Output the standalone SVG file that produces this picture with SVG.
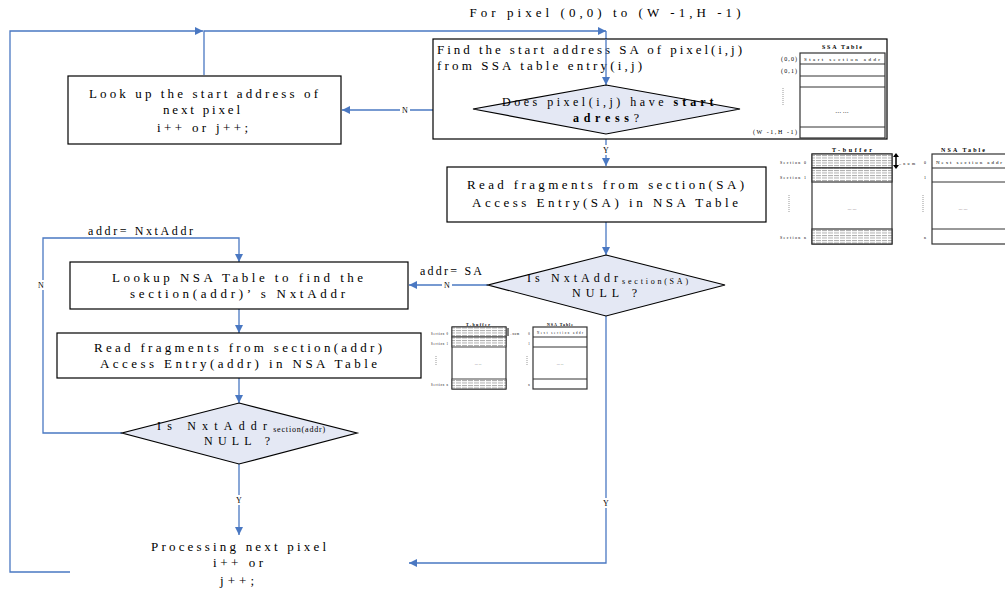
<svg xmlns="http://www.w3.org/2000/svg" width="1005" height="592" viewBox="0 0 1005 592">
<style>
text{font-family:"Liberation Serif","Times New Roman",serif;fill:#000}
.t{font-size:13px}
.d{font-size:12px}
.sub{font-size:8px}
.lbl{font-size:8px}
.box{fill:#fff;stroke:#000;stroke-width:1.2}
.dia{fill:#e4e8f4;stroke:#000;stroke-width:1.2}
.con{fill:none;stroke:#4a78c2;stroke-width:1.3}
.tb{fill:#fff;stroke:#333;stroke-width:1.2}
.tl{stroke:#333;stroke-width:1}
.sm{font-size:6px}
.xs{font-size:4px}
.ttl{font-weight:bold}
.dot{stroke:#999;stroke-width:1;stroke-dasharray:1 1}
</style>
<defs>
<marker id="ar" viewBox="0 0 10 10" refX="10" refY="5" markerWidth="9" markerHeight="8" markerUnits="userSpaceOnUse" orient="auto">
<path d="M0,0 L10,5 L0,10 z" fill="#4a78c2"/>
</marker>
<pattern id="hatch" width="6" height="2.5" patternUnits="userSpaceOnUse">
<rect width="6" height="2.5" fill="#fff"/>
<rect width="5" height="1" fill="#aaa"/>
</pattern>
</defs>

<text class="t" x="605" y="17" text-anchor="middle" textLength="271" lengthAdjust="spacing">For pixel (0,0) to (W -1,H -1)</text>

<g id="connectors">
<path class="con" d="M70,572 H10 V31 H203" marker-end="url(#ar)"/>
<path class="con" d="M204,75 V31 H606" marker-end="url(#ar)"/>
<path class="con" d="M606,31 V85" marker-end="url(#ar)"/>
<path class="con" d="M473,110 H342" marker-end="url(#ar)"/>
<path class="con" d="M606,134 V166" marker-end="url(#ar)"/>
<path class="con" d="M606,222 V255" marker-end="url(#ar)"/>
<path class="con" d="M488,285 H409" marker-end="url(#ar)"/>
<path class="con" d="M606,316 V563 H409" marker-end="url(#ar)"/>
<path class="con" d="M239,309 V333" marker-end="url(#ar)"/>
<path class="con" d="M239,378 V403" marker-end="url(#ar)"/>
<path class="con" d="M122,433 H43 V238 H239 V262" marker-end="url(#ar)"/>
<path class="con" d="M239,464 V535" marker-end="url(#ar)"/>
<rect x="400" y="105" width="10" height="10" fill="#fff"/>
<text class="lbl" x="405" y="113" text-anchor="middle">N</text>
<rect x="601" y="145" width="10" height="10" fill="#fff"/>
<text class="lbl" x="606" y="153" text-anchor="middle">Y</text>
<rect x="442" y="280" width="10" height="10" fill="#fff"/>
<text class="lbl" x="447" y="288" text-anchor="middle">N</text>
<text class="d" x="420" y="275" textLength="62" lengthAdjust="spacing">addr= SA</text>
<rect x="601" y="498" width="10" height="10" fill="#fff"/>
<text class="lbl" x="606" y="506" text-anchor="middle">Y</text>
<rect x="36" y="280" width="10" height="10" fill="#fff"/>
<text class="lbl" x="41" y="288" text-anchor="middle">N</text>
<text class="d" x="88" y="235" textLength="105" lengthAdjust="spacing">addr= NxtAddr</text>
<rect x="234" y="495" width="10" height="10" fill="#fff"/>
<text class="lbl" x="239" y="503" text-anchor="middle">Y</text>
</g>

<g id="lookup-start">
<rect class="box" x="68" y="76" width="273" height="68"/>
<text class="t" x="89" y="98" textLength="229" lengthAdjust="spacing">Look up the start address of</text>
<text class="t" x="163" y="114" textLength="77" lengthAdjust="spacing">next pixel</text>
<text class="t" x="157" y="132" textLength="91" lengthAdjust="spacing">i++ or j++;</text>
</g>

<g id="find-start">
<rect class="box" x="433" y="39" width="454" height="100" fill="none"/>
<text class="t" x="437" y="54" textLength="305" lengthAdjust="spacing">Find the start address SA of pixel(i,j)</text>
<text class="t" x="437" y="70" textLength="205" lengthAdjust="spacing">from SSA table entry(i,j)</text>
</g>
<path class="con" d="M606,39 V85" marker-end="url(#ar)"/>

<g id="dec-start">
<polygon class="dia" points="606,85 740,109 606,134 473,109"/>
<text class="d" x="502" y="106"><tspan textLength="168" lengthAdjust="spacing">Does pixel(i,j) have </tspan><tspan font-weight="bold" textLength="40" lengthAdjust="spacing">start</tspan></text>
<text class="d" x="573" y="122"><tspan font-weight="bold" textLength="56" lengthAdjust="spacing">adress</tspan><tspan>?</tspan></text>
</g>

<g id="ssa-table">
<text class="sm ttl" x="842" y="49" text-anchor="middle" textLength="40" lengthAdjust="spacing">SSA Table</text>
<rect class="tb" x="800" y="53" width="85" height="85"/>
<line class="tl" x1="800" y1="64" x2="885" y2="64"/>
<line class="tl" x1="800" y1="76" x2="885" y2="76"/>
<line class="tl" x1="800" y1="87" x2="885" y2="87"/>
<line class="tl" x1="800" y1="127" x2="885" y2="127"/>
<text x="842" y="61" text-anchor="middle" textLength="76" lengthAdjust="spacing" font-size="5">Start section addr</text>
<text class="sm" x="842" y="113" text-anchor="middle">… …</text>
<text class="sm" x="797" y="61" text-anchor="end" textLength="16" lengthAdjust="spacing">(0,0)</text>
<text class="sm" x="797" y="73" text-anchor="end" textLength="16" lengthAdjust="spacing">(0,1)</text>
<line class="dot" x1="783" y1="88" x2="783" y2="105"/>
<text class="sm" x="797" y="134" text-anchor="end" textLength="44" lengthAdjust="spacing">(W -1,H -1)</text>
</g>

<g id="read-sa">
<rect class="box" x="447" y="167" width="319" height="55"/>
<text class="t" x="467" y="189" textLength="277" lengthAdjust="spacing">Read fragments from section(SA)</text>
<text class="t" x="472" y="207" textLength="266" lengthAdjust="spacing">Access Entry(SA) in NSA Table</text>
</g>

<g id="tbuffer-big">
<text class="sm ttl" x="852" y="152" text-anchor="middle" textLength="40" lengthAdjust="spacing">T-buffer</text>
<rect class="tb" x="812" y="154" width="80" height="90"/>
<rect x="812" y="154" width="80" height="14" fill="url(#hatch)" stroke="#333" stroke-width="1.2"/>
<rect x="812" y="168" width="80" height="14" fill="url(#hatch)" stroke="#333" stroke-width="1.2"/>
<rect x="812" y="229" width="80" height="15" fill="url(#hatch)" stroke="#333" stroke-width="1.2"/>
<text class="xs" x="852" y="210" text-anchor="middle">… …</text>
<text class="xs" x="806" y="164" text-anchor="end" textLength="26" lengthAdjust="spacing">Section 0</text>
<text class="xs" x="806" y="179" text-anchor="end" textLength="26" lengthAdjust="spacing">Section 1</text>
<line class="dot" x1="789" y1="195" x2="789" y2="212"/>
<text class="xs" x="806" y="239" text-anchor="end" textLength="26" lengthAdjust="spacing">Section n</text>
<line x1="896" y1="155" x2="896" y2="167" stroke="#000" stroke-width="1.5"/>
<path d="M893,157 L896,153 L899,157 z M893,165 L896,169 L899,165 z" fill="#000"/>
<text class="xs" x="899" y="165" textLength="16" lengthAdjust="spacing">‥num</text>
</g>

<g id="nsa-big">
<text class="sm ttl" x="963" y="152" text-anchor="middle" textLength="44" lengthAdjust="spacing">NSA Table</text>
<rect class="tb" x="932" y="154" width="90" height="90"/>
<line class="tl" x1="932" y1="168" x2="1005" y2="168"/>
<line class="tl" x1="932" y1="182" x2="1005" y2="182"/>
<line class="tl" x1="932" y1="229" x2="1005" y2="229"/>
<text x="936" y="164" textLength="66" lengthAdjust="spacing" font-size="5">Next section addr</text>
<text class="xs" x="963" y="210" text-anchor="middle">… …</text>
<text class="xs" x="925" y="164" text-anchor="middle">0</text>
<text class="xs" x="925" y="179" text-anchor="middle">1</text>
<line class="dot" x1="923" y1="195" x2="923" y2="212"/>
<text class="xs" x="925" y="239" text-anchor="middle">n</text>
</g>

<g id="dec-sa">
<polygon class="dia" points="606,255 725,285 606,316 488,285"/>
<text class="d" x="527" y="282"><tspan textLength="91" lengthAdjust="spacing">Is NxtAddr</tspan><tspan class="sub" dy="2" textLength="66" lengthAdjust="spacing">section(SA)</tspan></text>
<text class="d" x="572" y="297" textLength="65" lengthAdjust="spacing">NULL ?</text>
</g>

<g id="lookup-nsa">
<rect class="box" x="70" y="262" width="338" height="47"/>
<text class="t" x="112" y="282" textLength="251" lengthAdjust="spacing">Lookup NSA Table to find the</text>
<text class="t" x="130" y="298" textLength="215" lengthAdjust="spacing">section(addr)’ s NxtAddr</text>
</g>

<g id="read-addr">
<rect class="box" x="57" y="333" width="364" height="45"/>
<text class="t" x="94" y="352" textLength="288" lengthAdjust="spacing">Read fragments from section(addr)</text>
<text class="t" x="100" y="368" textLength="277" lengthAdjust="spacing">Access Entry(addr) in NSA Table</text>
</g>

<g id="tbuffer-small">
<text class="xs ttl" x="478" y="326" text-anchor="middle" textLength="24" lengthAdjust="spacing">T-buffer</text>
<rect class="tb" x="452" y="327" width="54" height="62" stroke-width="0.9"/>
<rect x="452" y="327" width="54" height="10" fill="url(#hatch)" stroke="#333" stroke-width="0.9"/>
<rect x="452" y="337" width="54" height="10" fill="url(#hatch)" stroke="#333" stroke-width="0.9"/>
<rect x="452" y="379" width="54" height="10" fill="url(#hatch)" stroke="#333" stroke-width="0.9"/>
<text x="478" y="365" text-anchor="middle" font-size="3">… …</text>
<text x="448" y="335" text-anchor="end" font-size="3" textLength="17" lengthAdjust="spacing">Section 0</text>
<text x="448" y="345" text-anchor="end" font-size="3" textLength="17" lengthAdjust="spacing">Section 1</text>
<line class="dot" x1="436" y1="356" x2="436" y2="366"/>
<text x="448" y="386" text-anchor="end" font-size="3" textLength="17" lengthAdjust="spacing">Section n</text>
<line x1="508" y1="328" x2="508" y2="336" stroke="#000" stroke-width="1"/>
<text x="510" y="335" font-size="3" textLength="9" lengthAdjust="spacing">‥num</text>
</g>

<g id="nsa-small">
<text class="xs ttl" x="560" y="326" text-anchor="middle" textLength="26" lengthAdjust="spacing">NSA Table</text>
<rect class="tb" x="533" y="327" width="54" height="62" stroke-width="0.9"/>
<line class="tl" x1="533" y1="337" x2="587" y2="337" stroke-width="0.9"/>
<line class="tl" x1="533" y1="347" x2="587" y2="347" stroke-width="0.9"/>
<line class="tl" x1="533" y1="379" x2="587" y2="379" stroke-width="0.9"/>
<text x="560" y="334" text-anchor="middle" font-size="3" textLength="46" lengthAdjust="spacing">Next section addr</text>
<text x="560" y="365" text-anchor="middle" font-size="3">… …</text>
<text x="529" y="335" text-anchor="middle" font-size="3">0</text>
<text x="529" y="345" text-anchor="middle" font-size="3">1</text>
<line class="dot" x1="527" y1="356" x2="527" y2="366"/>
<text x="529" y="386" text-anchor="middle" font-size="3">n</text>
</g>

<g id="dec-addr">
<polygon class="dia" points="239,403 357,433 239,464 122,433"/>
<text class="d" x="157" y="430"><tspan textLength="110" lengthAdjust="spacing">Is NxtAddr</tspan><tspan class="sub" dy="2" textLength="52" lengthAdjust="spacing">section(addr)</tspan></text>
<text class="d" x="204" y="445" textLength="66" lengthAdjust="spacing">NULL ?</text>
</g>

<g id="process-next">
<text class="t" x="151" y="551" textLength="175" lengthAdjust="spacing">Processing next pixel</text>
<text class="t" x="213" y="567" textLength="50" lengthAdjust="spacing">i++ or</text>
<text class="t" x="220" y="585" textLength="34" lengthAdjust="spacing">j++;</text>
</g>
</svg>
